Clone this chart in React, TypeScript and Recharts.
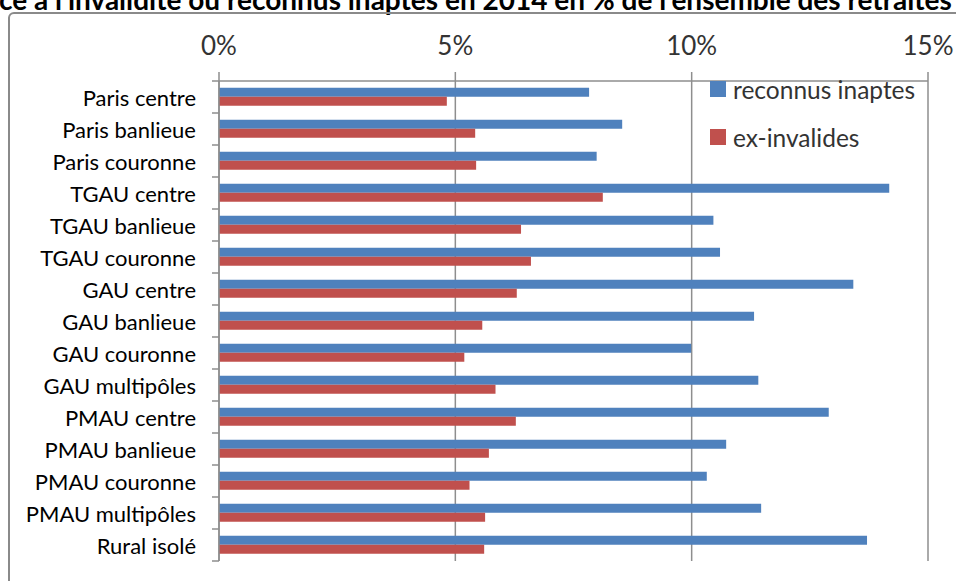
import { Bar, BarChart, CartesianGrid, Legend, XAxis, YAxis } from 'recharts'

const categories = [
  'Paris centre',
  'Paris banlieue',
  'Paris couronne',
  'TGAU centre',
  'TGAU banlieue',
  'TGAU couronne',
  'GAU centre',
  'GAU banlieue',
  'GAU couronne',
  'GAU multipôles',
  'PMAU centre',
  'PMAU banlieue',
  'PMAU couronne',
  'PMAU multipôles',
  'Rural isolé',
]

// % of all retirees
const reconnusInaptes = [7.83, 8.53, 7.99, 14.18, 10.46, 10.6, 13.42, 11.32, 9.99, 11.41, 12.9, 10.73, 10.32, 11.47, 13.71]
const exInvalides = [4.82, 5.42, 5.44, 8.12, 6.39, 6.6, 6.3, 5.57, 5.19, 5.85, 6.28, 5.71, 5.3, 5.63, 5.61]

const seriesNames = ['reconnus inaptes', 'ex-invalides']
const xTicks = [0, 5, 10, 15]

const data = categories.map((name, i) => ({
  name,
  inaptes: reconnusInaptes[i],
  invalides: exInvalides[i],
}))

const FONT = 'Lato, "Liberation Sans", sans-serif'
const GRID = '#8e8e8e'

// Excel style: tick marks sit between categories, not on them
function CategoryTick(props: any) {
  const { x, y, payload, index, visibleTicksCount } = props
  const half = payload?.offset || 16
  const last = index === visibleTicksCount - 1
  return (
    <g>
      <line x1={x - 7} x2={x} y1={y - half} y2={y - half} stroke={GRID} strokeWidth={1.5} />
      {last && <line x1={x - 7} x2={x} y1={y + half} y2={y + half} stroke={GRID} strokeWidth={1.5} />}
      <text
        x={x - 23}
        y={y}
        textAnchor="end"
        dominantBaseline="central"
        fill="#000"
        fontSize={22}
        fontFamily={FONT}
      >
        {payload.value}
      </text>
    </g>
  )
}

function LegendBox(props: any) {
  const items = [...(props.payload || [])].sort(
    (a: any, b: any) => seriesNames.indexOf(a.value) - seriesNames.indexOf(b.value),
  )
  return (
    <div style={{ fontFamily: FONT, fontSize: 24.5, color: '#333' }}>
      {items.map((item: any) => (
        <div key={item.value} style={{ display: 'flex', alignItems: 'center', height: 48 }}>
          <span style={{ width: 16, height: 16, background: item.color, marginRight: 7 }} />
          <span>{item.value}</span>
        </div>
      ))}
    </div>
  )
}

export default function App() {
  return (
    <div
      style={{
        position: 'absolute',
        left: 0,
        top: 0,
        width: 956,
        height: 581,
        overflow: 'hidden',
        background: '#fff',
      }}
    >
      <div
        style={{
          position: 'absolute',
          left: -1,
          top: -18,
          whiteSpace: 'nowrap',
          fontFamily: FONT,
          fontWeight: 700,
          fontSize: 28,
          color: '#000',
        }}
      >
        ce à l'invalidité ou reconnus inaptes en 2014 en % de l'ensemble des retraités de droit direct
      </div>
      <div
        style={{
          position: 'absolute',
          left: 8,
          top: 12,
          width: 1000,
          height: 640,
          border: '2px solid #8a8a8a',
          borderRadius: 6,
        }}
      />
      <div style={{ position: 'absolute', left: 0, top: 0 }}>
        <BarChart
          width={956}
          height={581}
          data={data}
          layout="vertical"
          margin={{ top: 0, right: 28, bottom: 20, left: 0 }}
          barCategoryGap="21%"
          barGap={0}
        >
          <CartesianGrid horizontal={false} stroke={GRID} strokeWidth={1.5} />
          <XAxis
            type="number"
            orientation="top"
            height={81}
            domain={[0, 15]}
            ticks={xTicks}
            tickFormatter={(v) => `${v}%`}
            tickSize={9}
            tickMargin={17}
            stroke={GRID}
            strokeWidth={1.5}
            tick={{ fill: '#333', fontSize: 26, fontFamily: FONT }}
            interval={0}
          />
          <YAxis
            type="category"
            dataKey="name"
            width={219}
            tickLine={false}
            tickSize={0}
            tickMargin={0}
            stroke={GRID}
            strokeWidth={1.5}
            tick={<CategoryTick />}
            interval={0}
          />
          <Legend
            layout="vertical"
            verticalAlign="middle"
            align="center"
            content={<LegendBox />}
            wrapperStyle={{ left: 710, top: 65, width: 240 }}
          />
          <Bar dataKey="inaptes" name="reconnus inaptes" fill="#4F81BD" isAnimationActive={false} />
          <Bar dataKey="invalides" name="ex-invalides" fill="#C0504D" isAnimationActive={false} />
        </BarChart>
      </div>
    </div>
  )
}
